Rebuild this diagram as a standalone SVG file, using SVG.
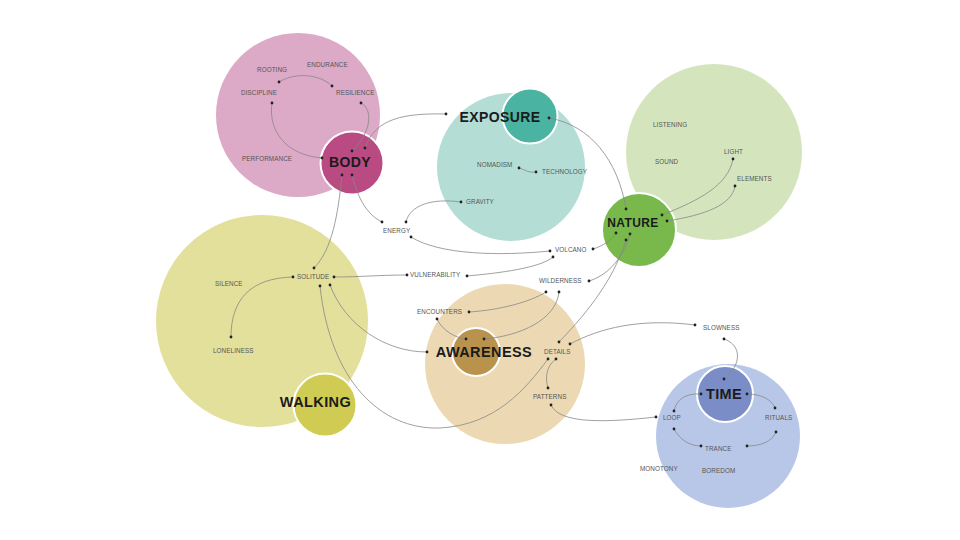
<svg xmlns="http://www.w3.org/2000/svg" width="960" height="540" viewBox="0 0 960 540">
<style>
.big{stroke:none}
.hub{stroke:#ffffff;stroke-width:2}
.title{font-family:"Liberation Sans",Arial,sans-serif;font-weight:bold;fill:#1b1b1b;text-anchor:middle;letter-spacing:0.4px}
.lbl{font-family:"Liberation Sans",Arial,sans-serif;font-size:6.3px;fill:#555555;letter-spacing:0.1px}
.con{fill:none;stroke:#888888;stroke-width:0.8}
</style>
<defs>
<marker id="dot" viewBox="-2 -2 4 4" markerWidth="4" markerHeight="4" refX="0" refY="0" markerUnits="userSpaceOnUse"><circle r="1.4" fill="#222222"/></marker>
</defs>
<rect width="960" height="540" fill="#ffffff"/>

<g id="body-area">
<circle class="big" cx="298" cy="115" r="82" fill="#dca9c7"/>
</g>
<g id="exposure-area">
<circle class="big" cx="511" cy="167" r="74" fill="#b3ddd5"/>
</g>
<g id="nature-area">
<circle class="big" cx="714" cy="152" r="88" fill="#d4e5bd"/>
</g>
<g id="walking-area">
<circle class="big" cx="262" cy="321" r="106" fill="#e3e09b"/>
</g>
<g id="awareness-area">
<circle class="big" cx="505" cy="364" r="80" fill="#ecd9b3"/>
</g>
<g id="time-area">
<circle class="big" cx="728" cy="436" r="72" fill="#b8c7e8"/>
</g>

<g id="body"><circle class="hub" cx="352" cy="163" r="31.5" fill="#b94a82"/><text class="title" x="350" y="167" font-size="14">BODY</text></g>
<g id="exposure"><circle class="hub" cx="530" cy="116" r="27.5" fill="#4ab3a2"/><text class="title" x="500" y="122" font-size="14">EXPOSURE</text></g>
<g id="nature"><circle class="hub" cx="639" cy="230" r="37" fill="#79b94b"/><text class="title" x="633" y="227" font-size="12" letter-spacing="0.2">NATURE</text></g>
<g id="walking"><circle class="hub" cx="325" cy="405" r="31.5" fill="#cfcb53"/><text class="title" x="315.5" y="407" font-size="14.5">WALKING</text></g>
<g id="awareness"><circle class="hub" cx="476" cy="352" r="24" fill="#b9924b"/><text class="title" x="484" y="357" font-size="14.5">AWARENESS</text></g>
<g id="time"><circle class="hub" cx="725" cy="394" r="28" fill="#7b8dc6"/><text class="title" x="724" y="399" font-size="14.5">TIME</text></g>

<g id="connectors" marker-start="url(#dot)" marker-end="url(#dot)">
<path class="con" d="M279,82 C295,72 320,74 332,86"/>
<path class="con" d="M272,103 C268,130 285,155 322,158"/>
<path class="con" d="M361,103 C373,109 372,132 352,151"/>
<path class="con" d="M365,148 C375,118 405,113 446,114"/>
<path class="con" d="M342,175 C338,215 332,250 314,268"/>
<path class="con" d="M352,175 C358,200 368,215 382,222"/>
<path class="con" d="M461,202 C432,198 410,205 406,222"/>
<path class="con" d="M411,237 C440,255 500,256 550,251"/>
<path class="con" d="M553,257 C540,268 500,273 467,276"/>
<path class="con" d="M407,275 C380,275 360,277 334,277"/>
<path class="con" d="M519,168 C526,170 528,173 536,172"/>
<path class="con" d="M549,118 C590,125 618,160 626,209"/>
<path class="con" d="M593,249 C603,246 612,240 616,233"/>
<path class="con" d="M589,281 C605,276 622,262 630,234"/>
<path class="con" d="M626,240 C612,285 580,320 559,342"/>
<path class="con" d="M662,215 C700,200 728,185 733,159"/>
<path class="con" d="M667,221 C705,215 732,205 735,186"/>
<path class="con" d="M293,277 C250,278 231,300 231,337"/>
<path class="con" d="M330,285 C345,325 385,352 427,352"/>
<path class="con" d="M320,286 C330,380 380,430 440,428 C495,425 525,390 548,359"/>
<path class="con" d="M469,312 C500,310 530,302 546,292"/>
<path class="con" d="M437,319 C442,330 455,338 466,339"/>
<path class="con" d="M559,292 C556,320 520,336 484,339"/>
<path class="con" d="M570,344 C600,328 640,318 695,325"/>
<path class="con" d="M724,339 C742,345 742,365 724,379"/>
<path class="con" d="M556,359 C546,366 545,378 548,388"/>
<path class="con" d="M551,405 C560,425 610,422 656,417"/>
<path class="con" d="M701,394 C685,393 676,400 674,411"/>
<path class="con" d="M674,429 C680,440 690,446 701,446"/>
<path class="con" d="M747,394 C762,394 772,400 775,408"/>
<path class="con" d="M776,432 C772,442 760,446 747,446"/>
</g>

<g id="rooting"><text class="lbl" x="257" y="72">ROOTING</text></g>
<g id="endurance"><text class="lbl" x="307" y="67">ENDURANCE</text></g>
<g id="discipline"><text class="lbl" x="241" y="95">DISCIPLINE</text></g>
<g id="resilience"><text class="lbl" x="336" y="95">RESILIENCE</text></g>
<g id="performance"><text class="lbl" x="242" y="161">PERFORMANCE</text></g>
<g id="nomadism"><text class="lbl" x="477" y="167">NOMADISM</text></g>
<g id="technology"><text class="lbl" x="542" y="174">TECHNOLOGY</text></g>
<g id="gravity"><text class="lbl" x="466" y="204">GRAVITY</text></g>
<g id="energy"><text class="lbl" x="383" y="233">ENERGY</text></g>
<g id="volcano"><text class="lbl" x="555" y="252">VOLCANO</text></g>
<g id="vulnerability"><text class="lbl" x="410" y="277">VULNERABILITY</text></g>
<g id="solitude"><text class="lbl" x="297" y="279">SOLITUDE</text></g>
<g id="wilderness"><text class="lbl" x="539" y="283">WILDERNESS</text></g>
<g id="listening"><text class="lbl" x="653" y="127">LISTENING</text></g>
<g id="sound"><text class="lbl" x="655" y="164">SOUND</text></g>
<g id="light"><text class="lbl" x="724" y="154">LIGHT</text></g>
<g id="elements"><text class="lbl" x="737" y="181">ELEMENTS</text></g>
<g id="silence"><text class="lbl" x="215" y="286">SILENCE</text></g>
<g id="loneliness"><text class="lbl" x="213" y="353">LONELINESS</text></g>
<g id="encounters"><text class="lbl" x="417" y="314">ENCOUNTERS</text></g>
<g id="details"><text class="lbl" x="544" y="354">DETAILS</text></g>
<g id="patterns"><text class="lbl" x="533" y="399">PATTERNS</text></g>
<g id="slowness"><text class="lbl" x="703" y="330">SLOWNESS</text></g>
<g id="loop"><text class="lbl" x="663" y="420">LOOP</text></g>
<g id="rituals"><text class="lbl" x="765" y="420">RITUALS</text></g>
<g id="trance"><text class="lbl" x="705" y="451">TRANCE</text></g>
<g id="monotony"><text class="lbl" x="640" y="471">MONOTONY</text></g>
<g id="boredom"><text class="lbl" x="702" y="473">BOREDOM</text></g>
</svg>
